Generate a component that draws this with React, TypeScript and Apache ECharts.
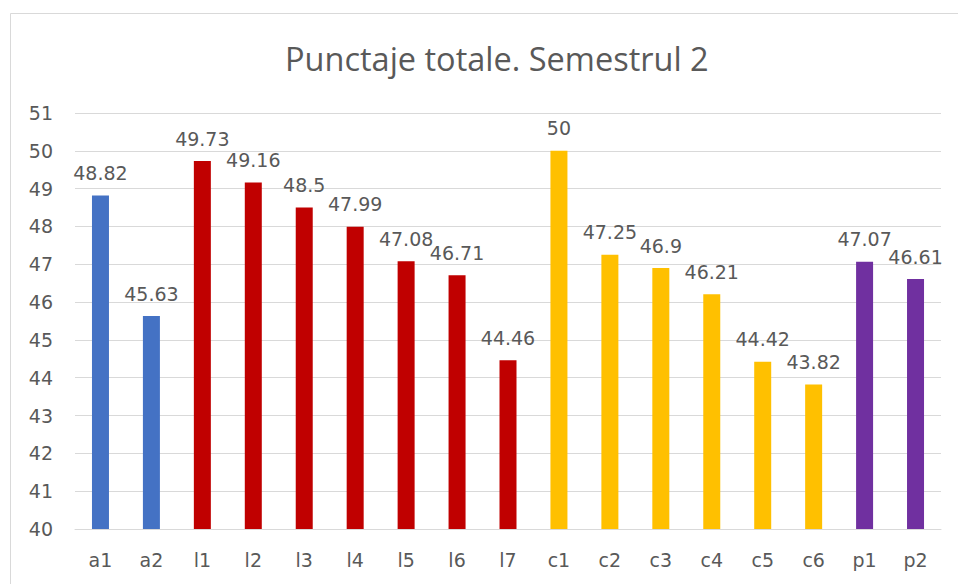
import React, { useEffect, useRef } from "react";
import * as echarts from "echarts";

const categories = ["a1", "a2", "l1", "l2", "l3", "l4", "l5", "l6", "l7", "c1", "c2", "c3", "c4", "c5", "c6", "p1", "p2"];
const values = [48.82, 45.63, 49.73, 49.16, 48.5, 47.99, 47.08, 46.71, 44.46, 50, 47.25, 46.9, 46.21, 44.42, 43.82, 47.07, 46.61];
const barColors = [
  "#4472C4", "#4472C4",
  "#C00000", "#C00000", "#C00000", "#C00000", "#C00000", "#C00000", "#C00000",
  "#FFC000", "#FFC000", "#FFC000", "#FFC000", "#FFC000", "#FFC000",
  "#7030A0", "#7030A0",
];
const titleText = "Punctaje totale. Semestrul 2";

export default function App() {
  const ref = useRef<HTMLDivElement>(null);
  useEffect(() => {
    document.body.style.margin = "0";
    const chart = echarts.init(ref.current!, null, { renderer: "svg" });
    const font = "DejaVu Sans, sans-serif";
    chart.setOption({
      animation: false,
      backgroundColor: "#ffffff",
      title: {
        text: titleText,
        left: 280,
        top: 37,
        textStyle: { fontFamily: "Open Sans, sans-serif", fontSize: 32.5, fontWeight: "normal", color: "#595959" },
      },
      graphic: [
        {
          type: "rect",
          shape: { x: 10.5, y: 13.5, width: 1000, height: 700 },
          style: { fill: "none", stroke: "#D9D9D9", lineWidth: 1 },
          silent: true,
        },
      ],
      grid: { left: 75, right: 17, top: 113, bottom: 55, containLabel: false },
      xAxis: {
        type: "category",
        data: categories,
        axisLine: { show: true, lineStyle: { color: "#D9D9D9", width: 1 } },
        axisTick: { show: false },
        axisLabel: { fontFamily: font, fontSize: 19, color: "#595959", margin: 21 },
      },
      yAxis: {
        type: "value",
        min: 40,
        max: 51,
        interval: 1,
        axisLine: { show: false },
        axisTick: { show: false },
        splitLine: { lineStyle: { color: "#D9D9D9", width: 1 } },
        axisLabel: { fontFamily: font, fontSize: 19, color: "#595959", margin: 22 },
      },
      series: [
        {
          type: "bar",
          barWidth: 17,
          data: values.map((v, i) => ({ value: v, itemStyle: { color: barColors[i] } })),
          label: {
            show: true,
            position: "top",
            distance: 13,
            fontFamily: font,
            fontSize: 19,
            color: "#595959",
          },
        },
      ],
    });
    return () => chart.dispose();
  }, []);
  return <div ref={ref} style={{ width: 958, height: 584, position: "absolute", left: 0, top: 0 }} />;
}
